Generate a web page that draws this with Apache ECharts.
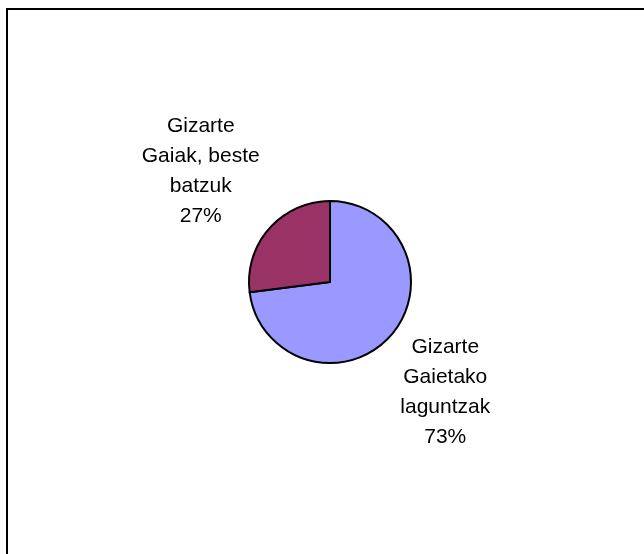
<!DOCTYPE html>
<html>
<head>
<meta charset="utf-8">
<script src="https://cdn.jsdelivr.net/npm/echarts@6/dist/echarts.min.js"></script>
<style>
  html, body { margin: 0; padding: 0; background: #fff; }
  #chart { width: 644px; height: 554px; }
</style>
</head>
<body>
<div id="chart"></div>
<script>
// slices, in drawing order (clockwise from 12 o'clock)
const categories = ['Gizarte\nGaietako\nlaguntzak', 'Gizarte\nGaiak, beste\nbatzuk'];
const values = [73, 27];
const colors = ['#9999FF', '#993366'];

const chart = echarts.init(document.getElementById('chart'));

const data = categories.map((name, i) => ({
  name: name,
  value: values[i],
  itemStyle: { color: colors[i] }
}));

const option = {
  animation: false,
  graphic: [
    {
      type: 'rect',
      shape: { x: 7, y: 9, width: 700, height: 700 },
      style: { fill: 'none', stroke: '#000', lineWidth: 2 }
    }
  ],
  series: [
    {
      type: 'pie',
      center: [330, 282],
      radius: 81,
      startAngle: 90,
      clockwise: true,
      avoidLabelOverlap: false,
      itemStyle: { borderColor: '#000', borderWidth: 2 },
      label: {
        show: true,
        position: 'outside',
        formatter: '{b}\n{d}%',
        fontFamily: 'Liberation Sans, Arial, sans-serif',
        fontSize: 21,
        lineHeight: 30,
        color: '#000',
        distanceToLabelLine: 0
      },
      labelLine: { show: false, length: 86, length2: 0 },
      labelLayout: function (params) {
        return {
          align: 'center',
          verticalAlign: 'middle',
          dx: params.dataIndex === 0 ? -10 : -4
        };
      },
      emphasis: { disabled: true },
      data: data
    }
  ]
};

chart.setOption(option);
</script>
</body>
</html>
